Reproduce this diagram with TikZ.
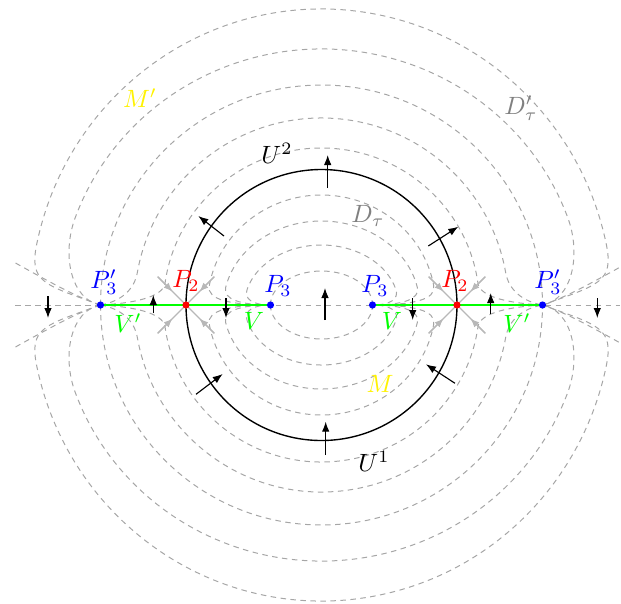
\documentclass[tikz,border=0pt]{standalone}
\usetikzlibrary{arrows.meta,calc}
% #1 endpoint |x|, #2 x radius, #3 y radius, #4 join angle, #5 first control length, #6 leaving angle, #7 second control length
\newcommand\flowq[7]{%
  \pgfmathsetmacro\fqjx{-#2*cos(#4)}%
  \pgfmathsetmacro\fqjy{#3*sin(#4)}%
  \pgfmathsetmacro\fqpsi{atan2(#3*cos(#4),#2*sin(#4))}%
  \pgfmathsetmacro\fqax{-#1+#5*cos(#6)}%
  \pgfmathsetmacro\fqay{#5*sin(#6)}%
  \pgfmathsetmacro\fqbx{\fqjx-#7*cos(\fqpsi)}%
  \pgfmathsetmacro\fqby{\fqjy-#7*sin(\fqpsi)}%
  \pgfmathsetmacro\fqmax{-\fqax}%
  \pgfmathsetmacro\fqmbx{-\fqbx}%
  \draw[flowline] (-#1,0) .. controls (\fqax,\fqay) and (\fqbx,\fqby) .. (\fqjx,\fqjy)
    arc[start angle={180-#4}, end angle=#4, x radius=#2, y radius=#3]
    .. controls (\fqmbx,\fqby) and (\fqmax,\fqay) .. (#1,0);
}
\newcommand\flowset{%
  \draw[flowline] (-51,0) arc[start angle=180, end angle=0, x radius=51, y radius=34];
  \flowq{51}{77}{60}{15}{18}{180}{10}
  \flowq{51}{98}{84}{12}{30}{180}{12}
  \flowq{51}{114}{110}{10}{40}{180}{14}
  \flowq{221}{158}{157}{8}{30}{3}{15}
  \flowq{221}{187}{187}{10}{20}{10}{18}
  \draw[flowline] (-221,0) arc[start angle=180, end angle=0, x radius=221, y radius=220];
  \flowq{221}{262}{256}{20}{30}{170}{40}
  \flowq{221}{291}{296}{12}{60}{160}{40}
  \draw[flowline] (-306,42) .. controls (-270,22) and (-245,8) .. (-221,0);
  \draw[flowline] (306,42) .. controls (270,22) and (245,8) .. (221,0);
}
\begin{document}
\begin{tikzpicture}[x=0.4pt,y=0.4pt,
  flowline/.style={draw=black!35, line width=0.4pt, dash pattern=on 2.2pt off 1.8pt},
  vec/.style={-{Latex[length=4pt,width=3pt]}, black, line width=0.45pt},
  garr/.style={-{Latex[length=3.6pt,width=2.8pt]}, black!28, line width=0.45pt},
  gline/.style={black!28, line width=0.45pt},
  lab/.style={inner sep=0pt}]
\useasboundingbox (-321.5,-298) rectangle (299.5,305);

\coordinate (O) at (0,0);
\coordinate (P3pL) at (-221,0);
\coordinate (P2L) at (-135.5,0);
\coordinate (P3L) at (-51,0);
\coordinate (P3R) at (51,0);
\coordinate (P2R) at (135.5,0);
\coordinate (P3pR) at (221,0);
\coordinate (axL) at (-306,0);
\coordinate (axR) at (298,0);

% flow lines
\flowset
\begin{scope}[yscale=-1]
\flowset
\end{scope}
\draw[flowline] (axL) -- (axR);

% green segments
\draw[green, line width=0.5pt] (P3pL) -- (P3L);
\draw[green, line width=0.5pt] (P3R) -- (P3pR);

% circle U
\draw[black, line width=0.55pt] (O) circle (135.5);

% saddle arrows at P2
\foreach \P in {P2L,P2R}{
  \foreach \a in {45,135,225,315}{
    \draw[gline] ($(\P)+(\a:40)$) -- (\P);
    \draw[garr] ($(\P)+(\a:40)$) -- ($(\P)+(\a:19)$);
  }
}

% black arrows
\draw[vec] (6.2,117) -- (6.2,150);
\draw[vec] (-97.5,69) -- (-123.2,89);
\draw[vec] (106.8,59) -- (136.8,78.3);
\draw[vec] (-125.5,-89.3) -- (-98.8,-69);
\draw[vec] (133.5,-78.3) -- (104.5,-59.3);
\draw[vec] (4.2,-150) -- (4.2,-116.7);
\draw[vec] (3.5,-15) -- (3.5,17);
\draw[vec] (-273.5,9) -- (-273.5,-13);
\draw[vec] (-168.2,-8) -- (-168.2,10);
\draw[vec] (-95.5,7) -- (-95.5,-13);
\draw[vec] (91.2,7) -- (91.2,-15);
\draw[vec] (169.2,-9) -- (169.2,12);
\draw[vec] (275.8,7) -- (275.8,-13);

% points
\fill[blue] (P3pL) circle (3.6);
\fill[blue] (P3pR) circle (3.6);
\fill[blue] (P3L) circle (3.6);
\fill[blue] (P3R) circle (3.6);
\fill[red] (P2L) circle (3.6);
\fill[red] (P2R) circle (3.6);

% labels
\node[lab, text=blue] (lP3pL) at (-217.5,23) {$P_3'$};
\node[lab, text=blue] (lP3pR) at (226.5,23) {$P_3'$};
\node[lab, text=red] (lP2L) at (-135.5,24) {$P_2$};
\node[lab, text=red] (lP2R) at (133.5,24) {$P_2$};
\node[lab, text=blue] (lP3L) at (-43.5,19) {$P_3$};
\node[lab, text=blue] (lP3R) at (53.5,19) {$P_3$};
\node[lab, text=green] (lVpL) at (-193.5,-18) {$V'$};
\node[lab, text=green] (lVpR) at (195.5,-18) {$V'$};
\node[lab, text=green] (lVL) at (-67.5,-16) {$V$};
\node[lab, text=green] (lVR) at (70.5,-16) {$V$};
\node[lab, text=yellow] (lMp) at (-181.5,207) {$M'$};
\node[lab, text=gray] (lDp) at (199.5,197) {$D'_\tau$};
\node[lab, text=black] (lU2) at (-44.5,152) {$U^2$};
\node[lab, text=gray] (lD) at (46.5,89) {$D_\tau$};
\node[lab, text=yellow] (lM) at (58.5,-79) {$M$};
\node[lab, text=black] (lU1) at (52.5,-156) {$U^1$};
\end{tikzpicture}
\end{document}
